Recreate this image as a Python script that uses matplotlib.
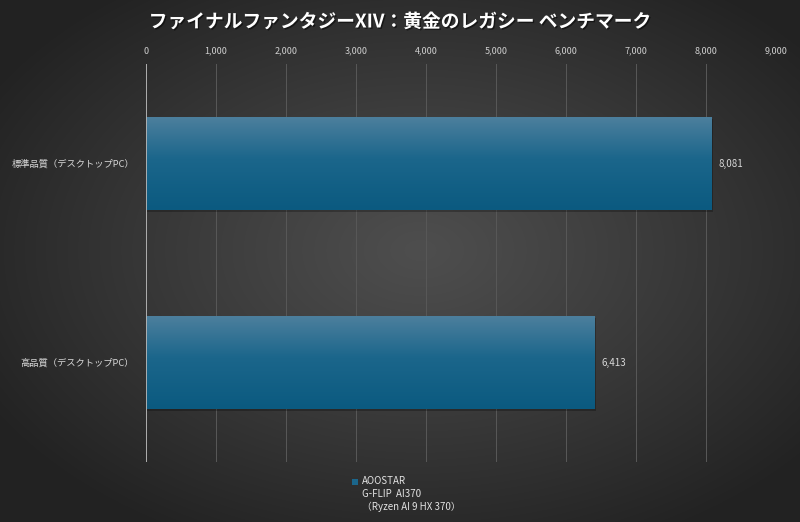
import numpy as np
import matplotlib
matplotlib.use("Agg")
import matplotlib.pyplot as plt
import matplotlib.patheffects as pe
from matplotlib.patches import Rectangle
from matplotlib.colors import LinearSegmentedColormap

# ---- data ----
title = 'ファイナルファンタジーXIV：黄金のレガシー ベンチマーク'
categories = ['標準品質（デスクトップPC）', '高品質（デスクトップPC）']
scores = [8081, 6413]
series_name = 'AOOSTAR\nG-FLIP  AI370\n（Ryzen AI 9 HX 370）'
x_ticks = [0, 1000, 2000, 3000, 4000, 5000, 6000, 7000, 8000, 9000]
x_tick_labels = ['0', '1,000', '2,000', '3,000', '4,000', '5,000', '6,000', '7,000', '8,000', '9,000']

plt.rcParams['font.family'] = ['Noto Sans CJK JP', 'DejaVu Sans']

W, H = 800, 522
fig = plt.figure(figsize=(W / 100, H / 100), dpi=100)

# background radial gradient
bg = fig.add_axes([0, 0, 1, 1], zorder=-10)
yy, xx = np.mgrid[0:H, 0:W]
cx, cy = 420, 250
r = np.sqrt(((xx - cx) / (W / 2)) ** 2 + ((yy - cy) / (H / 2)) ** 2)
val = 78 - 44 * np.clip(r / 1.25, 0, 1) ** 1.1
img = np.dstack([val, val, val]) / 255.0
bg.imshow(img, extent=[0, W, H, 0], aspect='auto')
bg.set_xlim(0, W)
bg.set_ylim(H, 0)
bg.axis('off')

# main axes
ax = fig.add_axes([146 / W, 1 - 462 / H, (776 - 146) / W, (462 - 64) / H])
ax.set_facecolor('none')
y = np.arange(len(categories))
bh = 0.467
bars = ax.barh(y, scores, height=bh, color='#15628a', zorder=3,
               path_effects=[pe.SimplePatchShadow(offset=(1, -1.2), alpha=0.25, shadow_rgbFace='black'),
                             pe.Normal()])
cmap = LinearSegmentedColormap.from_list('bar', [(0, '#4c7f9d'), (0.45, '#1b668b'), (1, '#0b5a80')])
grad = np.linspace(0, 1, 100).reshape(-1, 1)
for yi, v, b in zip(y, scores, bars):
    im = ax.imshow(grad, extent=[0, v, yi + bh / 2, yi - bh / 2], origin='upper',
                   aspect='auto', cmap=cmap, zorder=4)
    im.set_clip_path(b)

ax.set_xlim(0, 9000)
ax.set_ylim(len(categories) - 0.5, -0.5)

ax.xaxis.tick_top()
ax.set_xticks(x_ticks)
ax.set_xticklabels(x_tick_labels, fontsize=6.5, color='#cfcfcf')
ax.set_yticks(y)
ax.set_yticklabels(categories, fontsize=6.7, color='#d8d8d8')
ax.tick_params(axis='x', length=0, pad=6)
ax.tick_params(axis='y', length=0, pad=8.5)
ax.grid(axis='x', color='#575757', linewidth=0.75, zorder=1)
ax.set_axisbelow(True)
for s in ax.spines.values():
    s.set_visible(False)
ax.axvline(0, color='#b5b5b5', linewidth=1.3, zorder=5)

for yi, v in zip(y, scores):
    ax.annotate(f'{v:,}', xy=(v, yi), xytext=(5, 0), textcoords='offset points',
                va='center', ha='left', fontsize=7, color='#d8d8d8')

# title
fig.text(0.5, 1 - 22 / H, title, ha='center', va='center', fontsize=13.5,
         fontweight='bold', color='white',
         path_effects=[pe.SimplePatchShadow(offset=(1, -1), alpha=0.5, shadow_rgbFace='black'),
                       pe.Normal()])

# legend
fig.patches.append(Rectangle((352 / W, 1 - 485 / H), 6 / W, 6 / H, transform=fig.transFigure,
                             facecolor='#1b668b', edgecolor='none'))
fig.text(362 / W, 1 - 476 / H, series_name, ha='left', va='top', fontsize=7,
         color='#e2e2e2', linespacing=1.35)

fig.savefig('out.png', dpi=100)
